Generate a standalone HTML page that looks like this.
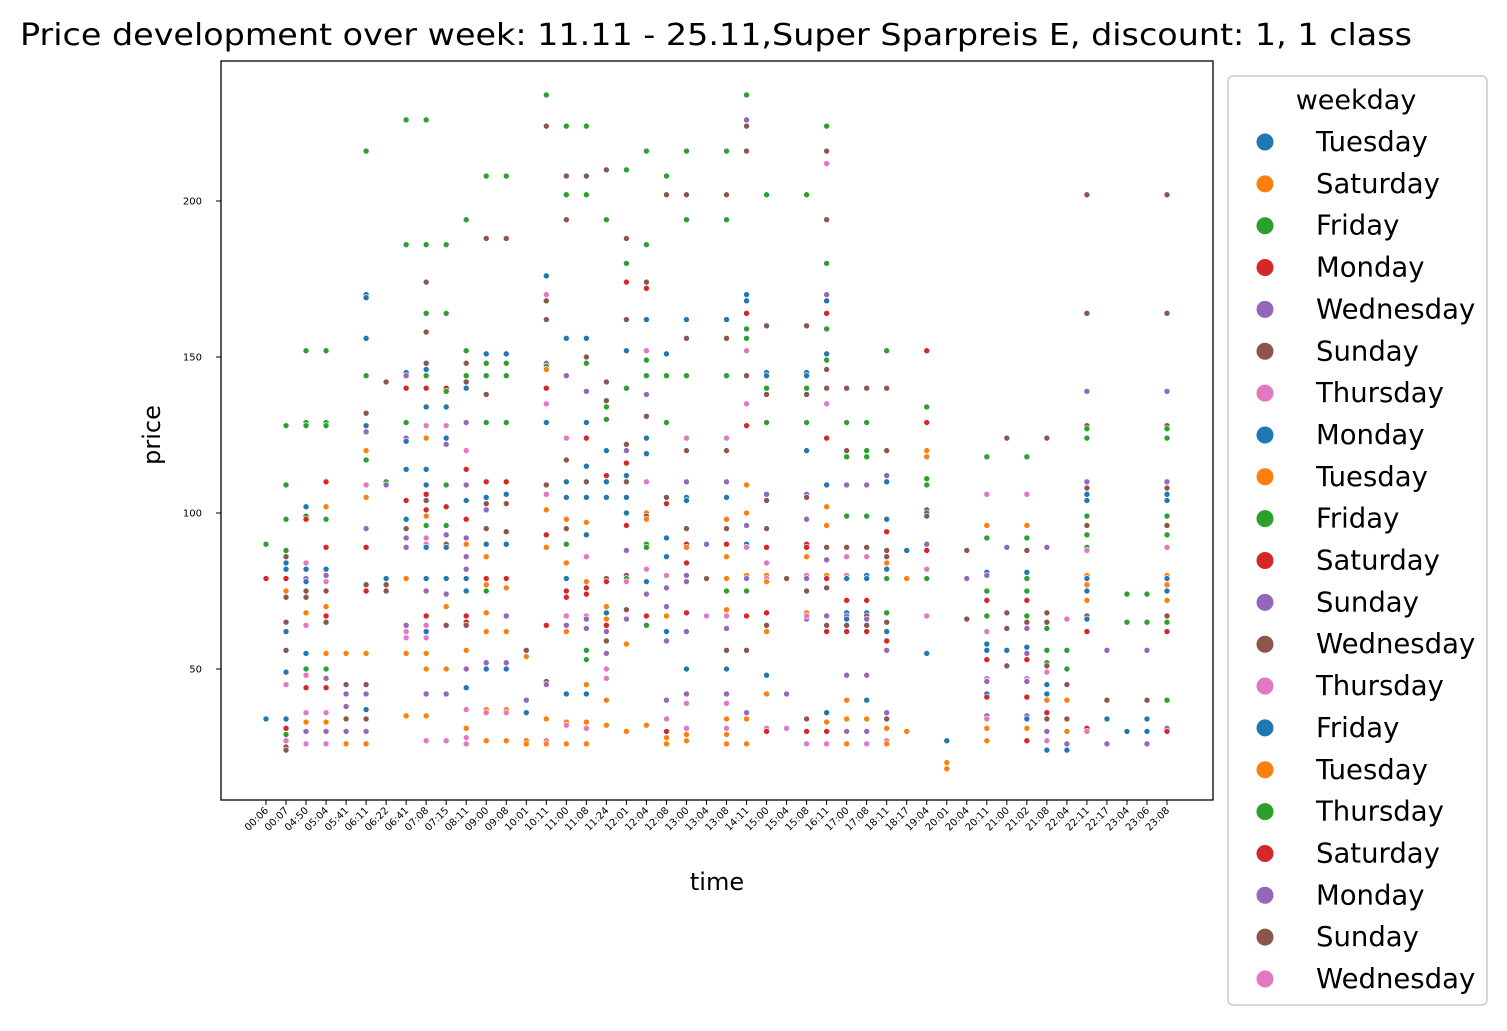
<!DOCTYPE html>
<html><head><meta charset="utf-8"><style>
html,body{margin:0;padding:0;background:#fff;}
svg text{font-family:"DejaVu Sans","Liberation Sans",sans-serif;}
</style></head><body>
<svg id="chart" width="1507" height="1026" xmlns="http://www.w3.org/2000/svg">
<rect width="1507" height="1026" fill="#fff"/>
<text x="20" y="45" font-size="30" textLength="1392" lengthAdjust="spacingAndGlyphs">Price development over week: 11.11 - 25.11,Super Sparpreis E, discount: 1, 1 class</text>
<rect x="221" y="61" width="992" height="739" fill="none" stroke="#000" stroke-width="1.3"/>
<g id="yaxis"></g>
<g id="xaxis"></g>
<g id="points"></g>
<text transform="translate(160,435) rotate(-90)" font-size="24" text-anchor="middle">price</text>
<text x="717" y="890" font-size="24" text-anchor="middle">time</text>
<g id="legend">
<rect x="1228" y="76" width="259" height="929" rx="5" fill="#fff" stroke="#ccc" stroke-width="1.5"/>
<text x="1356" y="109" font-size="27" text-anchor="middle">weekday</text>
</g>
</svg>
<script>
const categories=["00:06","00:07","04:50","05:04","05:41","06:11","06:22","06:41","07:08","07:15","08:11","09:00","09:08","10:01","10:11","11:00","11:08","11:24","12:01","12:04","12:08","13:00","13:04","13:08","14:11","15:00","15:04","15:08","16:11","17:00","17:08","18:11","18:17","19:04","20:01","20:04","20:11","21:00","21:02","21:08","22:04","22:11","22:17","23:04","23:06","23:08"];
const yTicks=[50,100,150,200];
const legendLabels=["Tuesday","Saturday","Friday","Monday","Wednesday","Sunday","Thursday","Monday","Tuesday","Friday","Saturday","Sunday","Wednesday","Thursday","Friday","Tuesday","Thursday","Saturday","Monday","Sunday","Wednesday"];
const palette={b:"#1f77b4",o:"#ff7f0e",g:"#2ca02c",r:"#d62728",p:"#9467bd",n:"#8c564b",k:"#e377c2"};
const legendColorKeys=["b","o","g","r","p","n","k","b","o","g","r","p","n","k","b","o","g","r","p","n","k"];
// each entry: price + color key, per time category
const pointsByCategory=[
"90g 79r 34b",
"128g 109g 98g 88g 86n 84b 82b 79r 75o 73n 65n 62b 56n 49b 45k 34b 31r 29g 27k 25n 24n",
"152g 129g 128g 102b 99g 98r 84k 82b 79p 78b 75n 73n 68o 64k 55b 50g 48k 44r 36k 33o 30p 26k",
"152g 129g 128g 110r 102o 98g 89r 82b 80p 78k 75n 70o 67r 65n 55o 50g 47p 44r 36k 33o 30p 26k",
"55o 45n 42p 38p 34n 30p 26o",
"216g 170b 169b 156b 144g 132n 128b 126p 120o 117g 109k 105o 95p 89r 77n 75r 55o 45n 42p 37b 34n 30p 26o",
"142n 110g 109p 79b 77n 75n",
"226g 186g 145b 144p 140r 129g 124p 123b 114b 104r 98b 95n 92p 89p 79o 64p 62k 60k 55o 35o",
"226g 186g 174n 164g 158n 148n 146b 144g 140r 134b 128k 124o 114b 109b 106r 104n 101r 99o 96g 92k 90k 89b 79b 75p 67r 64k 62b 60k 55o 50o 42p 35o 27k",
"186g 164g 140r 139g 134b 128k 124b 122p 109g 102r 96g 93p 90n 89b 79b 74p 70o 64n 50o 42p 27k",
"194g 152g 148n 144g 142n 140b 129p 120k 114r 109p 104b 98r 92p 90o 86p 82p 79b 75b 67r 65r 64n 56o 50p 44b 37k 31o 28k 26k",
"208g 188n 151b 148g 144g 138n 129g 110r 105b 103n 101p 95n 90b 86o 79r 77o 75g 68o 62o 52p 50b 37o 36k 27o",
"208g 188n 151b 148g 144g 129g 110r 106b 103n 94n 90b 79r 76o 67p 62o 52p 50b 37o 36k 27o",
"56n 54o 40p 36b 27o 26o",
"234g 224n 176b 170k 168n 162n 148p 147g 146o 140r 135k 129b 109n 106k 101o 93r 89o 64r 46n 45p 34o 27k 26o",
"224g 208n 202g 194n 156b 144p 124k 117n 110b 105b 98o 95n 90g 84o 79b 75r 73r 67k 64p 62o 42b 33o 32k 26o",
"224g 208n 202g 156b 150n 148g 139p 129b 124r 115b 110n 105b 97o 93b 86k 78o 76r 74r 67k 66p 63p 56g 53g 45o 42b 33o 31k 26o",
"210n 194g 142n 136n 134g 130g 120b 112r 110b 105b 79n 78r 70o 68b 66o 64r 62p 59n 55p 50k 47k 40o 32o",
"210g 188n 180g 174r 162n 152b 140g 122n 120p 116r 112b 110n 105b 100b 96r 88p 80n 79g 78k 69n 66p 58o 30o",
"216g 186g 174n 172r 162b 152k 149g 144g 138p 131n 124b 119b 110k 100o 99n 98o 90g 89g 82k 78b 74p 67r 64g 32o",
"208g 202n 151b 144g 129g 105n 103n 103r 92b 86b 80k 76p 70p 67o 62b 59p 40p 34k 30r 28o 26o",
"216g 202n 194g 162b 156n 144g 124k 120n 110p 105b 104b 95n 90r 89o 84r 80p 78p 68r 62p 50b 42p 39k 31k 29o 27o",
"90p 79n 67k",
"216g 202n 194g 162b 156n 144g 124k 120n 110p 105b 98o 95n 90r 86o 79o 75g 69o 67k 63p 56n 50b 42p 39k 34o 31k 29o 26o",
"234g 226p 224n 216n 170b 168b 164r 159g 156g 152k 144n 135k 128r 109o 100o 96p 90b 89k 80o 79p 75g 67r 56n 36p 34o 26o",
"202g 160n 145b 144b 140g 138n 129g 106p 104n 95n 89r 84k 80o 79k 78o 68r 64n 62o 48b 42o 31k 30r",
"79n 42p 31k",
"202g 160n 145b 144b 140g 138n 129g 120b 106p 105n 98p 90r 89r 86o 80k 79p 75n 68o 66p 67k 34n 30r 26k",
"224g 216n 212k 194n 180g 170p 168b 164r 159g 151b 149g 146n 140n 135k 124r 109b 102o 96o 89n 85p 80o 79r 76n 67p 64n 62r 36b 33o 30r 26k",
"140n 129g 120n 118g 109p 99g 89n 86k 80k 79b 72r 68b 67p 66b 64n 62r 48p 40o 34o 30p 26o",
"140n 129g 120g 118g 109p 99g 89n 86k 80b 79b 72r 68b 67n 66p 64n 62r 48p 40b 34o 30p 26k",
"152g 140n 120n 112p 110b 98b 94r 88n 86n 84o 82b 79g 68g 65n 62b 59r 56p 36p 34n 31o 27k 26o",
"88b 79o 30o",
"152r 134g 129r 120o 118o 111g 109g 101n 100b 99n 90p 88r 82k 79g 67k 55b",
"27b 20o 18o",
"88n 79p 66n",
"118g 106k 96o 92g 81b 80p 75g 72r 67g 62k 58b 56b 53r 47k 46p 42b 41r 35p 34k 31o 27o",
"124n 89p 68n 63n 56b 51n",
"118g 106k 96o 92g 88n 81b 79g 75g 72r 67g 65n 63p 57b 55p 53r 47k 46p 41r 35p 34b 31o 27r",
"124n 89p 68n 65n 63g 56g 52g 51n 49k 45b 42b 40o 36r 34n 30p 27k 24b",
"66k 56b 56g 50g 45n 40o 34n 30o 26p 24b",
"202n 164n 139p 128n 127g 124g 110p 108n 106b 104b 99g 96n 93g 89g 88k 80o 79b 77o 75b 72o 67n 66b 62r 31r 30k",
"56p 40n 34b 26p",
"74g 65g 30b",
"74g 65g 56p 40n 34b 30b 26p",
"202n 164n 139p 128n 127g 124g 110p 108n 106b 104b 99g 96n 93g 89k 80o 79b 77o 75b 72o 67n 65g 62r 40g 31p 30r"
];
const NS="http://www.w3.org/2000/svg";
const xScale=i=>266+i*(1167-266)/(categories.length-1);
const yScale=v=>513-(v-100)*3.12;
function mk(tag,attrs,parent){const e=document.createElementNS(NS,tag);for(const k in attrs)e.setAttribute(k,attrs[k]);parent.appendChild(e);return e;}
const ya=document.getElementById('yaxis');
yTicks.forEach(t=>{
  const y=yScale(t);
  const l=mk('line',{x1:216,x2:221,y1:y,y2:y,stroke:'#000','stroke-width':1},ya);
  
  
  const tx=mk('text',{x:202,y:y+3.5,'font-size':10,'text-anchor':'end'},ya);
  tx.textContent=t;
  
  
});
const xa=document.getElementById('xaxis');
categories.forEach((c,i)=>{
  const x=xScale(i);
  const l=mk('line',{x1:x,x2:x,y1:800,y2:805,stroke:'#000','stroke-width':1},xa);
  
  
  const tx=mk('text',{transform:`translate(${x+3},${811}) rotate(-45)`,'font-size':10,'text-anchor':'end'},xa);
  tx.textContent=c;
  
  
});
const pg=document.getElementById('points');
pointsByCategory.forEach((s,i)=>{
  s.split(' ').forEach(tok=>{
    const v=parseFloat(tok);const key=tok.slice(-1);
    const c=mk('circle',{cx:xScale(i),cy:yScale(v),r:3,fill:palette[key],stroke:'#fff','stroke-width':0.6},pg);
    
    
  });
});
const lg=document.getElementById('legend');
legendLabels.forEach((lab,i)=>{
  const y=142+i*41.85;
  const g=mk('g',{},lg);
  
  
  mk('circle',{cx:1265,cy:y,r:9,fill:palette[legendColorKeys[i]],stroke:'#fff','stroke-width':1},g);
  const t=mk('text',{x:1316,y:y+9,'font-size':27.5},g);
  t.textContent=lab;
});
</script>
</body></html>
